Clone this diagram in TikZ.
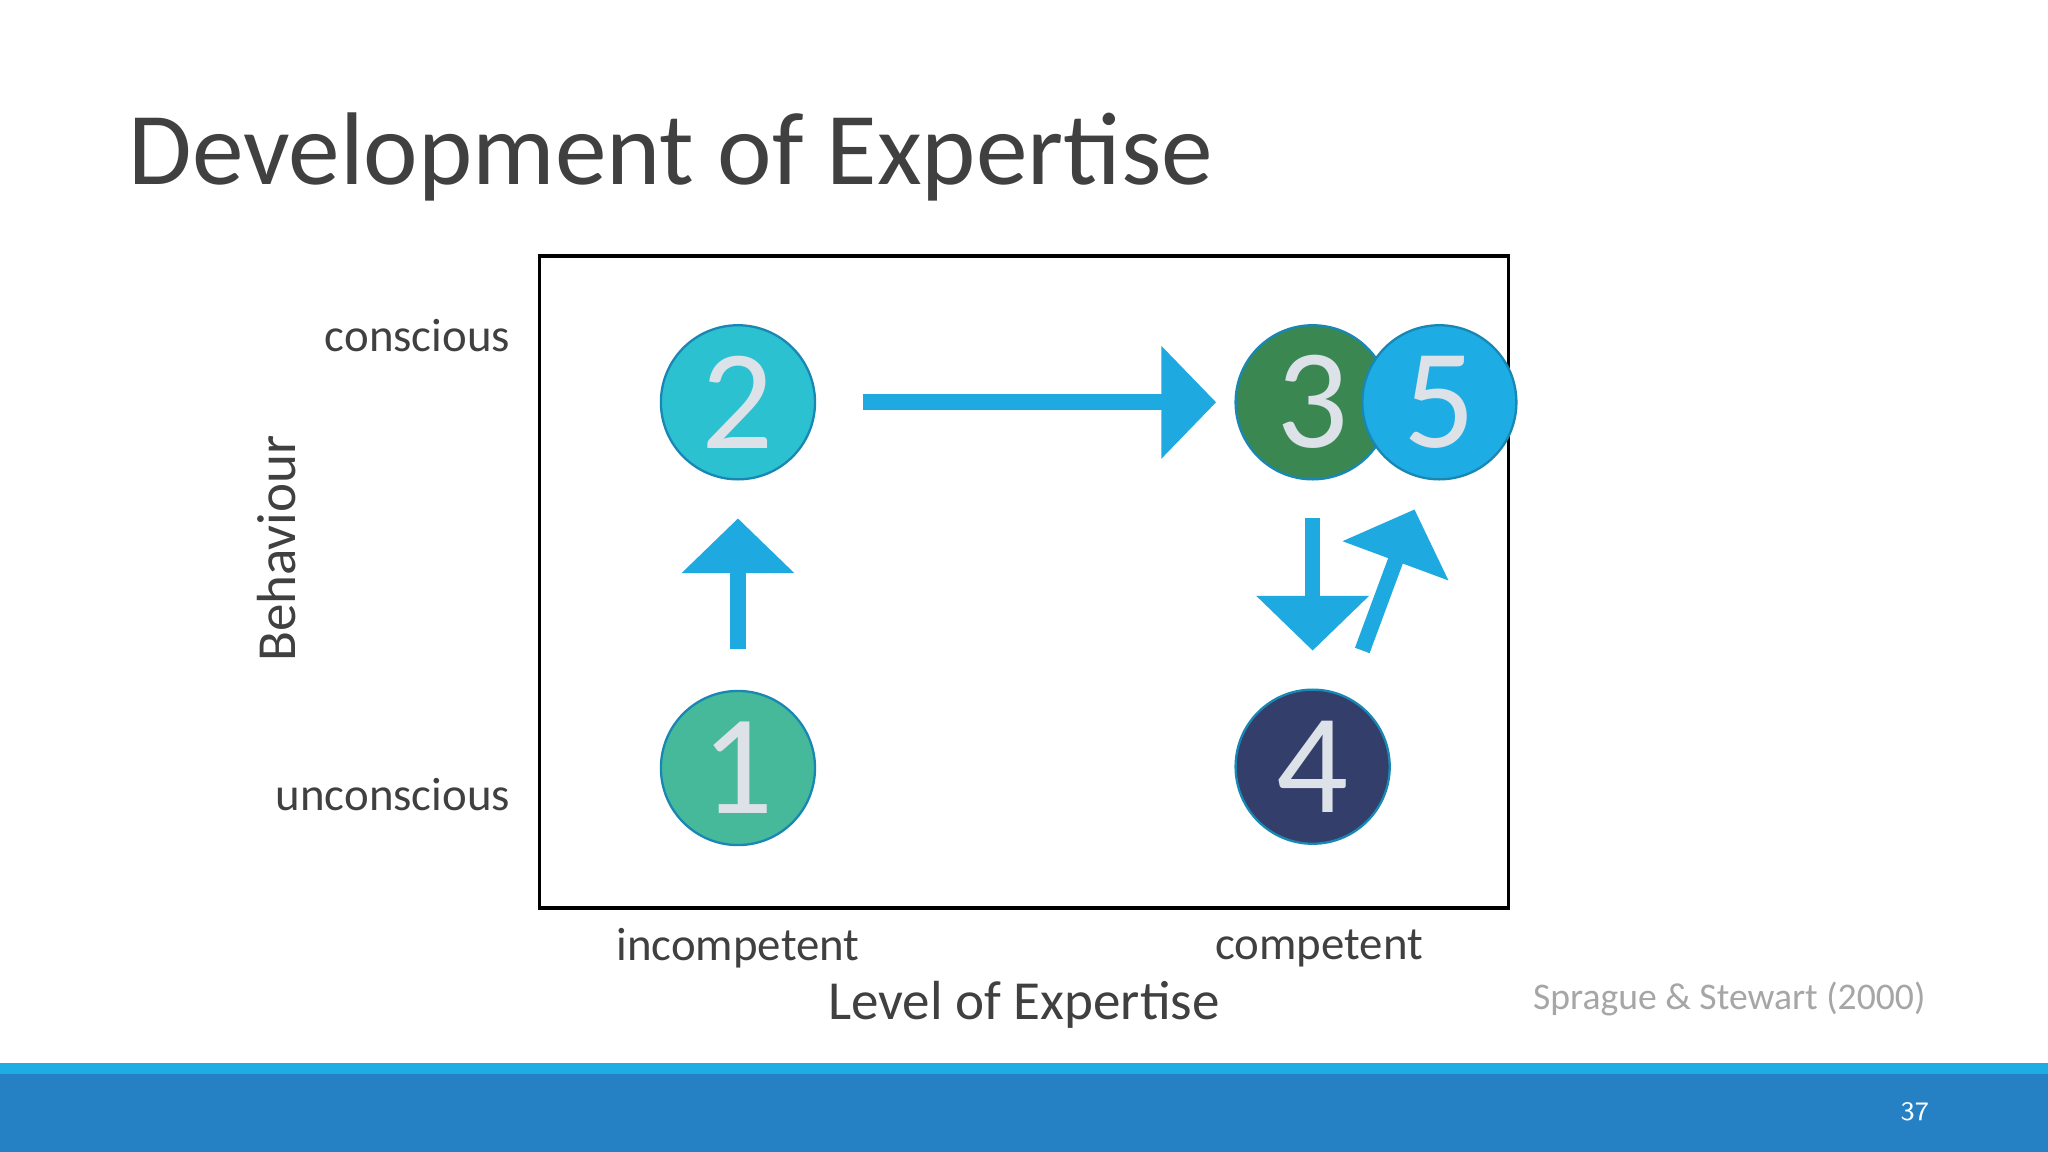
\documentclass[tikz,border=0pt]{standalone}
\usepackage{fontspec}
\setmainfont{Carlito}
\usetikzlibrary{arrows.meta}
\definecolor{barblue}{HTML}{2581C4}
\definecolor{lineblue}{HTML}{1EACE4}
\definecolor{arrblue}{HTML}{1FA9E1}
\definecolor{cA}{HTML}{45B99A}
\definecolor{cB}{HTML}{2BC1D1}
\definecolor{cC}{HTML}{3A8752}
\definecolor{cD}{HTML}{333F6A}
\definecolor{cE}{HTML}{1EACE4}
\definecolor{txt}{HTML}{404040}
\definecolor{digit}{HTML}{DCE2E8}
\tikzset{
  num/.style={circle,minimum size=11.8mm,inner sep=0pt,draw=arrblue!80!black,line width=0.5pt,text=digit,font=\fontsize{31}{31}\selectfont},
  bigarrow/.style={draw=arrblue,line width=3.4pt,-{Triangle[length=4.2mm,width=8.4mm]}},
  lbl/.style={text=txt,font=\fontsize{10.2}{12}\selectfont}
}
\begin{document}
\begin{tikzpicture}[x=0.1mm,y=-0.1mm]
\useasboundingbox (0,0) rectangle (1568,882);
\fill[white] (0,0) rectangle (1568,882);
\fill[lineblue] (0,814) rectangle (1568,822);
\fill[barblue] (0,822) rectangle (1568,882);
\node[text=white,font=\fontsize{5.8}{7}\sffamily] (pg) at (1466,851) {37};
\node[anchor=west,text=txt,font=\fontsize{22.5}{26}\selectfont] (title) at (86,120) {Development of Expertise};
\draw[line width=0.8pt] (413,196) rectangle (1155,695);
\node[num,fill=cA] (n1) at (565,588) {1};
\node[num,fill=cB] (n2) at (565,308) {2};
\node[num,fill=cC] (n3) at (1005,308) {3};
\node[num,fill=cE] (n5) at (1102,308) {5};
\node[num,fill=cD] (n4) at (1005,587) {4};
\draw[bigarrow,shorten <=3.6mm,shorten >=1.4mm] (n2) -- (n3);
\draw[bigarrow,shorten <=3.1mm,shorten >=2.9mm] (n1) -- (n2);
\draw[bigarrow,shorten <=2.9mm,shorten >=2.9mm] (n3) -- (n4);
\coordinate (d1) at (1043,498);
\coordinate (d2) at (1083,390);
\draw[bigarrow] (d1) -- (d2);
\node[lbl,anchor=east] (lc) at (403,257) {conscious};
\node[lbl,anchor=east] (lu) at (403,608) {unconscious};
\node[lbl] (li) at (565,726) {incompetent};
\node[lbl] (lco) at (1010,726) {competent};
\node[lbl,font=\fontsize{12}{14}\selectfont] (lx) at (784,769) {Level of Expertise};
\node[lbl,font=\fontsize{12}{14}\selectfont,rotate=90] (ly) at (212,420) {Behaviour};
\node[text=gray!70,font=\fontsize{8.2}{10}\selectfont] (src) at (1324,765) {Sprague \& Stewart (2000)};
\end{tikzpicture}
\end{document}
